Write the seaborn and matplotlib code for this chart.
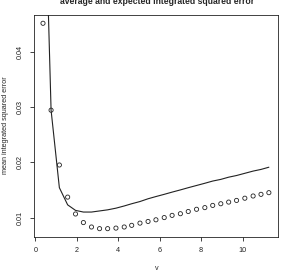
import numpy as np
import pandas as pd
import seaborn as sns
import matplotlib
matplotlib.use("Agg")
import matplotlib.pyplot as plt

# values
v = [0.37, 0.76, 1.16, 1.56, 1.94, 2.32, 2.71, 3.10, 3.49, 3.89,
     4.29, 4.65, 5.05, 5.44, 5.82, 6.22, 6.60, 7.00, 7.38, 7.78,
     8.18, 8.56, 8.95, 9.33, 9.71, 10.11, 10.51, 10.89, 11.27]
average_ise = [0.0451, 0.0294, 0.0195, 0.0137, 0.01065, 0.0091, 0.0083, 0.0080, 0.0080, 0.0081,
               0.0083, 0.0086, 0.0090, 0.0093, 0.0096, 0.0100, 0.0104, 0.0107, 0.0111, 0.0115,
               0.0118, 0.0122, 0.0125, 0.0128, 0.0131, 0.0135, 0.0139, 0.0142, 0.0145]
expected_ise = [0.082, 0.0294, 0.0154, 0.0123, 0.0113, 0.0110, 0.0110, 0.0112, 0.0114, 0.0117,
                0.0121, 0.0125, 0.0129, 0.0134, 0.0138, 0.0142, 0.0146, 0.0150, 0.0154, 0.0158,
                0.0162, 0.0166, 0.0169, 0.0173, 0.0176, 0.0180, 0.0184, 0.0187, 0.0191]
x_ticks = [0, 2, 4, 6, 8, 10]
y_ticks = [0.01, 0.02, 0.03, 0.04]

df = pd.DataFrame({"v": v, "avg": average_ise, "exp": expected_ise})

sns.set_style("ticks")
plt.rcParams['font.family'] = ['Liberation Sans', 'DejaVu Sans']

fig = plt.figure(figsize=(2.83, 2.79), dpi=100)
ax = fig.add_axes([0.120, 0.151, 0.862, 0.795])

sns.scatterplot(data=df, x="v", y="avg", ax=ax, marker="o", s=9,
                facecolors="none", edgecolor="#222222", linewidth=0.6, legend=False)
sns.lineplot(data=df, x="v", y="exp", ax=ax, sort=False, color="#222222",
             linewidth=0.8, legend=False)

# R style limits: range of the points plus 4%
xpad = 0.04 * (max(v) - min(v))
ypad = 0.04 * (max(average_ise) - min(average_ise))
ax.set_xlim(min(v) - xpad, max(v) + xpad)
ax.set_ylim(min(average_ise) - ypad, max(average_ise) + ypad)

ax.set_xticks(x_ticks)
ax.set_xticklabels([str(t) for t in x_ticks])
ax.set_yticks(y_ticks)
ax.set_yticklabels(["0.01", "0.02", "0.03", "0.04"], rotation=90, va="center")
ax.tick_params(labelsize=5.2, length=3, width=0.6, pad=4, colors="#222222")
for s in ax.spines.values():
    s.set_linewidth(0.6)
    s.set_color("#222222")
    s.set_visible(True)

ax.set_xlabel("")
ax.set_ylabel("")
fig.text(0.555, 0.039, "v", ha="center", va="center", fontsize=5.2)
fig.text(0.018, 0.55, "mean integrated squared error", ha="center", va="center",
         rotation=90, fontsize=5.2)
# title sits partly above the top edge, as in the reference
fig.text(0.555, 0.984, "average and expected integrated squared error",
         ha="center", va="baseline", fontsize=6.2, fontweight="bold")

fig.savefig("out.png", dpi=100)
